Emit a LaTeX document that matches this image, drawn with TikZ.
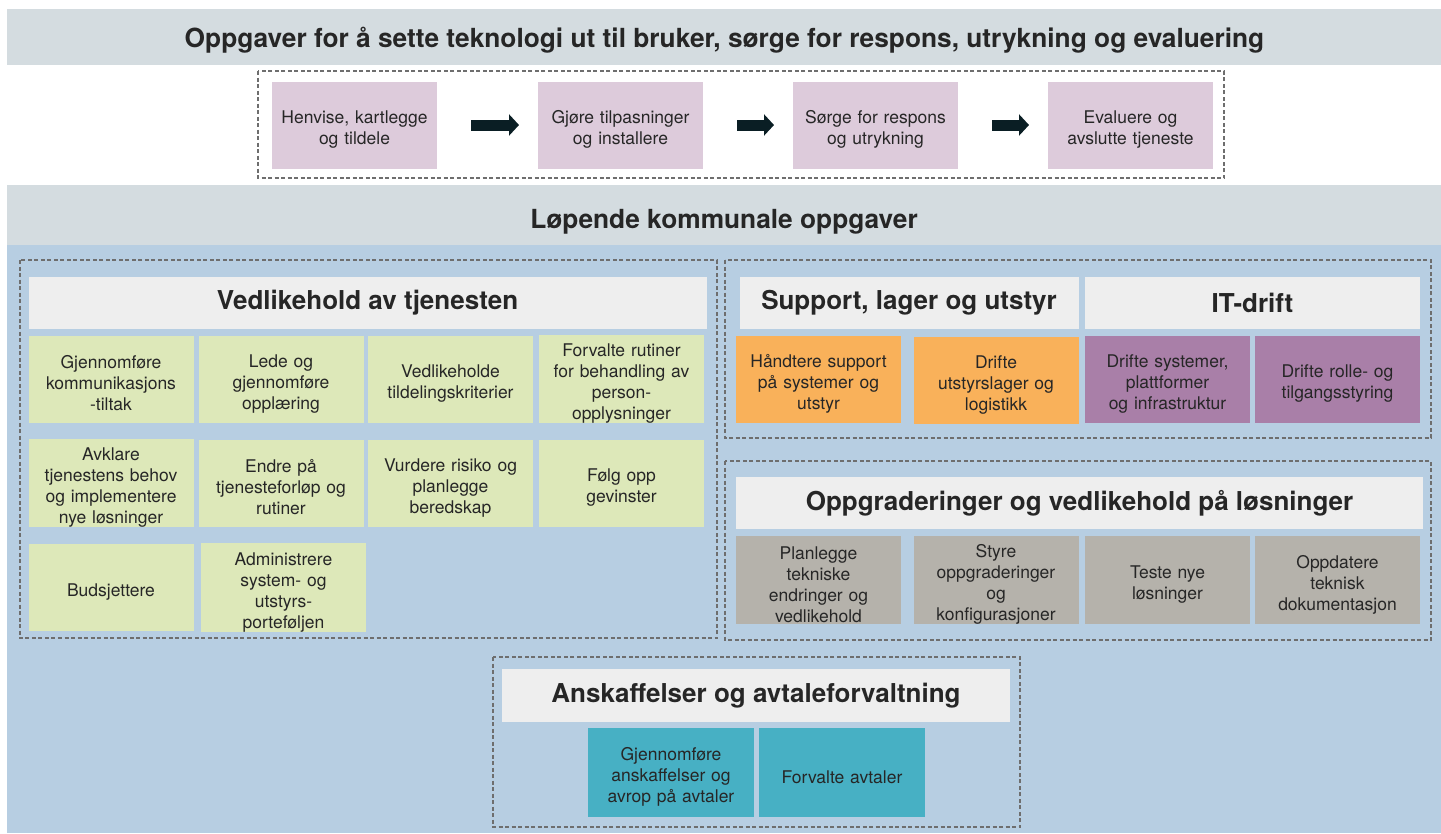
\documentclass[tikz,border=0pt]{standalone}
\usepackage{fontspec}
\setmainfont{TeX Gyre Heros}
\usetikzlibrary{arrows.meta}
\definecolor{bandGrey}{HTML}{D4DCE0}
\definecolor{areaBlue}{HTML}{B7CEE2}
\definecolor{headGrey}{HTML}{EEEEEE}
\definecolor{stepPink}{HTML}{DDCBDB}
\definecolor{cellGreen}{HTML}{DDE8B9}
\definecolor{cellOrange}{HTML}{F9B15A}
\definecolor{cellPurple}{HTML}{A97FA8}
\definecolor{cellStone}{HTML}{B5B2AB}
\definecolor{cellTeal}{HTML}{47B0C4}
\definecolor{arrowInk}{HTML}{0A1E24}
\definecolor{dashGrey}{HTML}{6E6E6E}
\definecolor{textDark}{HTML}{262626}
\tikzset{every node/.style={inner sep=0pt, outer sep=0pt, text=textDark, align=center},
  cell/.style={minimum width=165pt, minimum height=87pt, text width=160pt,
    font=\fontsize{17.5}{21}\selectfont, execute at begin node={\rule{0pt}{22pt}}},
  stepcell/.style={cell, fill=stepPink},
  greencell/.style={cell, fill=cellGreen},
  orangecell/.style={cell, fill=cellOrange},
  purplecell/.style={cell, fill=cellPurple},
  stonecell/.style={cell, fill=cellStone, minimum height=88pt},
  tealcell/.style={cell, fill=cellTeal, minimum width=166pt, minimum height=89pt},
  headbar/.style={fill=headGrey, minimum height=52pt, font=\fontsize{26}{31}\selectfont\bfseries},
  bigtitle/.style={font=\fontsize{26.3}{31}\selectfont\bfseries},
  groupbox/.style={draw=dashGrey, line width=1.4pt, dash pattern=on 4pt off 2.5pt},
  stepflow/.style={draw=arrowInk, line width=11pt, -{Triangle[length=10pt,width=21pt]}, shorten <=34pt, shorten >=19pt}}

\begin{document}
\begin{tikzpicture}[x=1pt, y=-1pt]
  \useasboundingbox (0,0) rectangle (1441,833);
  \fill[bandGrey] (7,9) rectangle (1441,65);
  \node[bigtitle] (toptitle) at (724.5,40.5) {Oppgaver for å sette teknologi ut til bruker, sørge for respons, utrykning og evaluering};
  \draw[groupbox] (258,71) rectangle (1224,178);
  \node[stepcell] (henvise) at (354.5,125) {Henvise, kartlegge\\og tildele};
  \node[stepcell] (tilpass) at (620.5,125) {Gjøre tilpasninger\\og installere};
  \node[stepcell] (respons) at (875.5,125) {Sørge for respons\\og utrykning};
  \node[stepcell] (evaluer) at (1130.5,125) {Evaluere og\\avslutte tjeneste};
  \draw[stepflow] (henvise) -- (tilpass);
  \draw[stepflow] (tilpass) -- (respons);
  \draw[stepflow] (respons) -- (evaluer);

  \fill[bandGrey] (7,185) rectangle (1441,245);
  \fill[areaBlue] (7,245) rectangle (1441,833);
  \node[bigtitle] (loptitle) at (724,222) {Løpende kommunale oppgaver};

  \begin{scope}
   \draw[groupbox] (20,260) rectangle (717,638);
   \node[headbar, minimum width=678pt] (vedlhead) at (367.5,302.5) {Vedlikehold av tjenesten};
   \node[greencell] (komm) at (111,379) {Gjennomføre\\kommunikasjons\\-tiltak};
   \node[greencell] (opplaer) at (281,379) {Lede og\\gjennomføre\\opplæring};
   \node[greencell] (kriterier) at (450.5,379) {Vedlikeholde\\tildelingskriterier};
   \node[greencell] (rutiner) at (621.5,379) {Forvalte rutiner\\for behandling av\\person-\\opplysninger};
   \node[greencell] (behov) at (111,483) {Avklare\\tjenestens behov\\og implementere\\nye løsninger};
   \node[greencell] (forlop) at (281,483) {Endre på\\tjenesteforløp og\\rutiner};
   \node[greencell] (risiko) at (450.5,483) {Vurdere risiko og\\planlegge\\beredskap};
   \node[greencell] (gevinst) at (621.5,483) {Følg opp\\gevinster};
   \node[greencell] (budsjett) at (111,587.5) {Budsjettere};
   \node[greencell] (portefolje) at (283.5,587.5) {Administrere\\system- og\\utstyrs-\\porteføljen};
  \end{scope}

  \begin{scope}
   \draw[groupbox] (725,260) rectangle (1431,438);
   \node[headbar, minimum width=339pt] (supphead) at (909,302.5) {Support, lager og utstyr};
   \node[headbar, minimum width=335pt] (ithead) at (1252.5,302.5) {IT-drift};
   \node[orangecell] (support) at (818.5,379) {Håndtere support\\på systemer og\\utstyr};
   \node[orangecell] (lager) at (996,380) {Drifte\\utstyrslager og\\logistikk};
   \node[purplecell] (plattform) at (1167.5,379) {Drifte systemer,\\plattformer\\og infrastruktur};
   \node[purplecell] (tilgang) at (1337.5,379) {Drifte rolle- og\\tilgangsstyring};
  \end{scope}

  \begin{scope}
   \draw[groupbox] (725,461) rectangle (1431,640);
   \node[headbar, minimum width=687pt] (oppghead) at (1079.5,503) {Oppgraderinger og vedlikehold på løsninger};
   \node[stonecell] (endringer) at (818.5,580) {Planlegge\\tekniske\\endringer og\\vedlikehold};
   \node[stonecell] (konfig) at (996,580) {Styre\\oppgraderinger\\og\\konfigurasjoner};
   \node[stonecell] (teste) at (1167.5,580) {Teste nye\\løsninger};
   \node[stonecell] (dokument) at (1337.5,580) {Oppdatere\\teknisk\\dokumentasjon};
  \end{scope}

  \begin{scope}
   \draw[groupbox] (493,657) rectangle (1020,827);
   \node[headbar, minimum width=508pt, minimum height=53pt] (anskhead) at (756,695.5) {Anskaffelser og avtaleforvaltning};
   \node[tealcell] (anskaff) at (671,772.5) {Gjennomføre\\anskaffelser og\\avrop på avtaler};
   \node[tealcell] (avtaler) at (842,772.5) {Forvalte avtaler};
  \end{scope}
\end{tikzpicture}
\end{document}
